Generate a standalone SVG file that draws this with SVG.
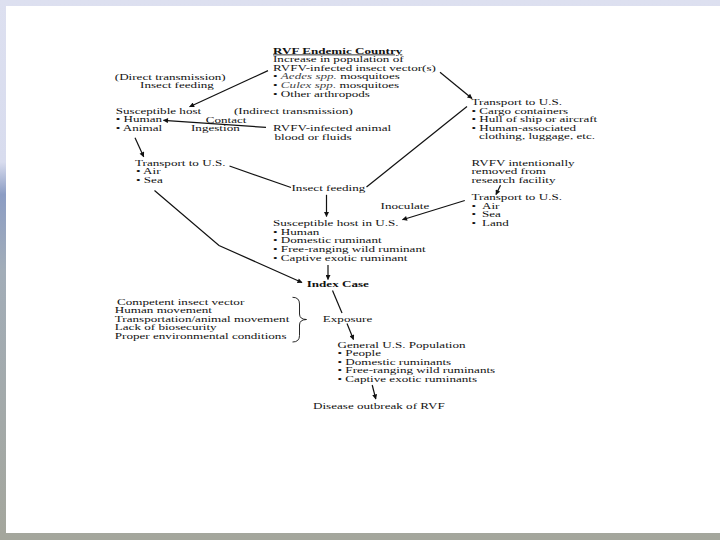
<svg xmlns="http://www.w3.org/2000/svg" width="720" height="540" viewBox="0 0 720 540">
<style>
text{font-family:"Liberation Serif","Times New Roman",serif;font-size:8.4px;fill:#111}
.b{font-weight:bold}
.u{text-decoration:underline}
.i{font-style:italic;fill:#444}
.c{stroke:#111;stroke-width:1.2;fill:none}
.a{marker-end:url(#ah)}
</style>
<defs>
<linearGradient id="bg" x1="0" y1="0" x2="0" y2="1">
<stop offset="0" stop-color="#dde0f0"/>
<stop offset="0.3" stop-color="#d8dcee"/>
<stop offset="0.36" stop-color="#8c9dc4"/>
<stop offset="0.5" stop-color="#a2adb8"/>
<stop offset="1" stop-color="#a4a69c"/>
</linearGradient>
<marker id="ah" viewBox="0 0 10 10" markerWidth="6" markerHeight="5" refX="9" refY="5" orient="auto" markerUnits="userSpaceOnUse">
<path d="M0,0 L10,5 L0,10 z" fill="#111"/>
</marker>
</defs>
<rect x="0" y="0" width="720" height="540" fill="url(#bg)"/>
<rect x="6" y="6" width="714" height="527" fill="#fff"/>

<g id="endemic">
<text transform="matrix(1.56 0 0 1 273 53.7)"><tspan x="0" class="b u">RVF Endemic Country</tspan><tspan x="0" dy="8.6">Increase in population of</tspan><tspan x="0" dy="8.6">RVFV-infected insect vector(s)</tspan><tspan x="0" dy="8.6">• <tspan class="i">Aedes spp.</tspan> mosquitoes</tspan><tspan x="0" dy="8.6">• <tspan class="i">Culex spp.</tspan> mosquitoes</tspan><tspan x="0" dy="8.6">• Other arthropods</tspan></text>
</g>
<g id="direct-label">
<text transform="matrix(1.56 0 0 1 114.8 79.5)"><tspan x="0">(Direct transmission)</tspan><tspan x="16.2" dy="8.6">Insect feeding</tspan></text>
</g>
<g id="susceptible-host">
<text transform="matrix(1.56 0 0 1 115.7 113.9)"><tspan x="0">Susceptible host</tspan><tspan x="0" dy="8.6">• Human</tspan><tspan x="0" dy="8.6">• Animal</tspan></text>
</g>
<g id="indirect-label">
<text transform="matrix(1.56 0 0 1 234 113.9)">(Indirect transmission)</text>
<text transform="matrix(1.56 0 0 1 205.7 122.5)">Contact</text>
<text transform="matrix(1.56 0 0 1 191 131.1)">Ingestion</text>
</g>
<g id="infected-animal">
<text transform="matrix(1.56 0 0 1 273 131.1)"><tspan x="0">RVFV-infected animal</tspan><tspan x="1" dy="8.6">blood or fluids</tspan></text>
</g>
<g id="transport-cargo">
<text transform="matrix(1.56 0 0 1 471.5 105)"><tspan x="0">Transport to U.S.</tspan><tspan x="0" dy="8.6">• Cargo containers</tspan><tspan x="0" dy="8.6">• Hull of ship or aircraft</tspan><tspan x="0" dy="8.6">• Human-associated</tspan><tspan x="4.8" dy="8.6">clothing, luggage, etc.</tspan></text>
</g>
<g id="transport-air-sea">
<text transform="matrix(1.56 0 0 1 135 165.6)"><tspan x="0">Transport to U.S.</tspan><tspan x="0.6" dy="8.6">• Air</tspan><tspan x="0.6" dy="8.6">• Sea</tspan></text>
</g>
<g id="insect-feeding">
<text transform="matrix(1.56 0 0 1 291.5 191.4)">Insect feeding</text>
</g>
<g id="research-facility">
<text transform="matrix(1.56 0 0 1 471.5 165.6)"><tspan x="0">RVFV intentionally</tspan><tspan x="0" dy="8.6">removed from</tspan><tspan x="0" dy="8.6">research facility</tspan></text>
</g>
<g id="transport-land">
<text transform="matrix(1.56 0 0 1 471.5 200)"><tspan x="0">Transport to U.S.</tspan><tspan x="0" dy="8.6">•</tspan><tspan x="6.7">Air</tspan><tspan x="0" dy="8.6">•</tspan><tspan x="6.7">Sea</tspan><tspan x="0" dy="8.6">•</tspan><tspan x="6.7">Land</tspan></text>
</g>
<g id="inoculate">
<text transform="matrix(1.56 0 0 1 380.6 208.6)">Inoculate</text>
</g>
<g id="host-us">
<text transform="matrix(1.56 0 0 1 273 226.2)"><tspan x="0">Susceptible host in U.S.</tspan><tspan x="0" dy="8.6">• Human</tspan><tspan x="0" dy="8.6">• Domestic ruminant</tspan><tspan x="0" dy="8.6">• Free-ranging wild ruminant</tspan><tspan x="0" dy="8.6">• Captive exotic ruminant</tspan></text>
</g>
<g id="index-case">
<text class="b" transform="matrix(1.56 0 0 1 306.7 286.7)">Index Case</text>
</g>
<g id="factors">
<text transform="matrix(1.56 0 0 1 114.8 304.7)"><tspan x="1.4">Competent insect vector</tspan><tspan x="0" dy="8.6">Human movement</tspan><tspan x="0" dy="8.6">Transportation/animal movement</tspan><tspan x="0" dy="8.6">Lack of biosecurity</tspan><tspan x="0" dy="8.6">Proper environmental conditions</tspan></text>
<path class="c" style="stroke-width:0.9" d="M292.5,297.3 Q299.5,297.3 299.5,304 L299.5,314 Q299.5,319.3 306.5,319.5 Q299.5,319.7 299.5,325 L299.5,335.5 Q299.5,342 292.5,342"/>
</g>
<g id="exposure">
<text transform="matrix(1.56 0 0 1 322.8 321.9)">Exposure</text>
</g>
<g id="general-population">
<text transform="matrix(1.56 0 0 1 337.5 347.6)"><tspan x="0">General U.S. Population</tspan><tspan x="0" dy="8.6">• People</tspan><tspan x="0" dy="8.6">• Domestic ruminants</tspan><tspan x="0" dy="8.6">• Free-ranging wild ruminants</tspan><tspan x="0" dy="8.6">• Captive exotic ruminants</tspan></text>
</g>
<g id="outbreak">
<text transform="matrix(1.56 0 0 1 313 408.5)">Disease outbreak of RVF</text>
</g>

<g id="connectors">
<line class="c a" x1="268" y1="70.6" x2="189.6" y2="106.7"/>
<line class="c a" x1="440" y1="72.3" x2="472" y2="98.5"/>
<line class="c a" x1="266" y1="127.4" x2="163.5" y2="120.3"/>
<line class="c a" x1="135" y1="137.7" x2="143.7" y2="156.7"/>
<line class="c" x1="229.5" y1="166" x2="291" y2="187.5"/>
<line class="c" x1="366.5" y1="187" x2="467" y2="106.5"/>
<line class="c a" x1="326.5" y1="194.8" x2="326.5" y2="216.5"/>
<polyline class="c a" points="154.5,190.5 219,245.5 302,282.5"/>
<line class="c a" x1="328" y1="265" x2="328" y2="279.5"/>
<line class="c" x1="332.5" y1="290.5" x2="342" y2="313"/>
<line class="c a" x1="347" y1="323.5" x2="353.5" y2="339.5"/>
<line class="c a" x1="372.2" y1="385" x2="375.8" y2="399"/>
<line class="c a" x1="500.5" y1="185.2" x2="496" y2="194.6"/>
<line class="c a" x1="464.8" y1="200.5" x2="402.5" y2="219.7"/>
</g>
</svg>
